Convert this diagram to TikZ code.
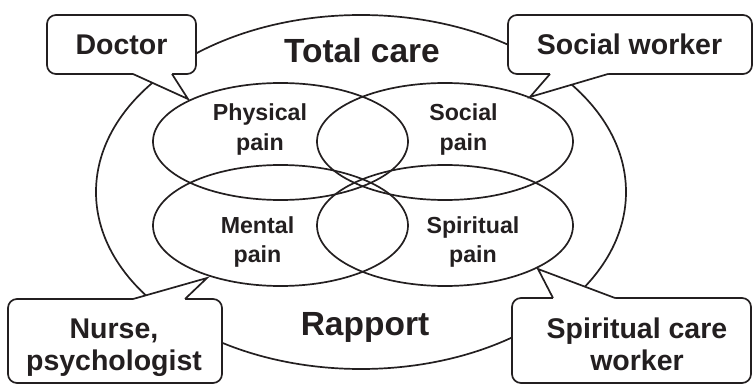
\documentclass[tikz,border=0pt]{standalone}
\usepackage{fontspec}
\setmainfont{Liberation Sans}
\definecolor{ink}{HTML}{231F20}
\begin{document}
\begin{tikzpicture}[x=1pt,y=-1pt,
  line width=1.7pt, draw=ink, text=ink,
  big/.style={font=\bfseries\fontsize{33.5}{38}\selectfont, inner sep=0, anchor=base},
  who/.style={font=\bfseries\fontsize{28.5}{32}\selectfont, inner sep=0, anchor=base, align=center},
  pain/.style={font=\bfseries\fontsize{23.2}{29.5}\selectfont, inner sep=0, anchor=base, align=center},
  callbox/.style={draw=ink, fill=white, rounded corners=9pt, inner sep=0},
  tailfill/.style={fill=white, draw=none},
  tailline/.style={draw=ink, line join=miter}]
\useasboundingbox (0,0) rectangle (755,385);
% outer ellipse
\draw (361,192) ellipse (265 and 177);
% four pain ellipses
\draw (280.5,141.5) ellipse (127.5 and 58.5);
\draw (445,141.5) ellipse (128 and 58.5);
\draw (280.5,225.5) ellipse (127.5 and 60.5);
\draw (445,225.5) ellipse (128 and 60.5);
% big labels
\node[big] (total) at (362,63) {Total care};
\node[big] (rapport) at (365,335) {Rapport};
% pain labels (anchor = baseline of last line)
\node[pain] (physical) at (260,150.5) {Physical\\pain};
\node[pain] (social) at (463.5,150.5) {Social\\pain};
\node[pain] (mental) at (257.5,262.5) {Mental\\pain};
\node[pain] (spiritual) at (473,262.5) {Spiritual\\pain};
% tail tips
\coordinate (tipD) at (188,99);
\coordinate (tipS) at (530,97);
\coordinate (tipN) at (207,278);
\coordinate (tipW) at (538,269);
% Doctor callout
\node[callbox, minimum width=149pt, minimum height=59pt] (doctorbox) at (121.5,44.5) {};
\fill[tailfill] (133,72) -- (133,74) -- (tipD) -- (172,74) -- (172,72) -- cycle;
\draw[tailline] (133,74) -- (tipD) -- (172,74);
\node[who] (doctor) at (121.5,55) {Doctor};
% Social worker callout
\node[callbox, minimum width=244pt, minimum height=59pt] (socialbox) at (630,44.5) {};
\fill[tailfill] (550,72) -- (550,74) -- (tipS) -- (608,74) -- (608,72) -- cycle;
\draw[tailline] (550,74) -- (tipS) -- (608,74);
\node[who] (socialw) at (629.5,55) {Social worker};
% Nurse callout
\node[callbox, minimum width=214pt, minimum height=84pt] (nursebox) at (115,341) {};
\fill[tailfill] (133,301) -- (133,299) -- (tipN) -- (185,299) -- (185,301) -- cycle;
\draw[tailline] (133,299) -- (tipN) -- (185,299);
\node[who] (nurse) at (114,370) {Nurse,\\psychologist};
% Spiritual care worker callout
\node[callbox, minimum width=239pt, minimum height=85pt] (spiritbox) at (631.5,340.5) {};
\fill[tailfill] (553,300) -- (553,298) -- (tipW) -- (615,298) -- (615,300) -- cycle;
\draw[tailline] (553,298) -- (tipW) -- (615,298);
\node[who] (spiritw) at (637,370) {Spiritual care\\worker};
\end{tikzpicture}
\end{document}
